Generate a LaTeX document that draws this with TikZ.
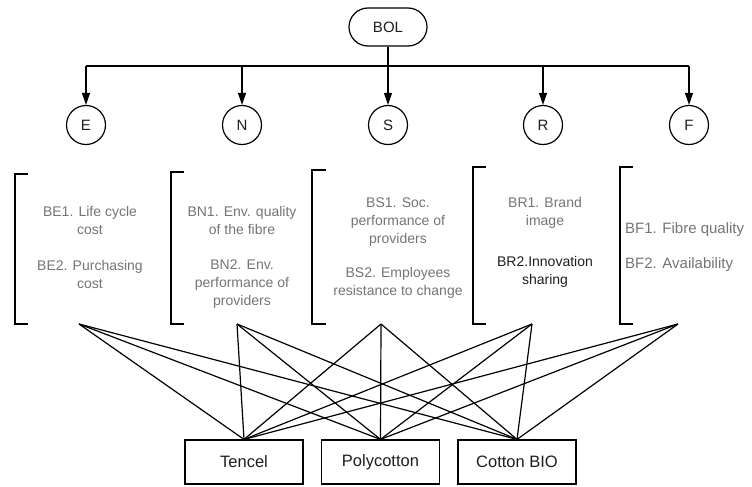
\documentclass[tikz,border=0pt]{standalone}
\usepackage{fontspec}
\setmainfont{Liberation Sans}
\usetikzlibrary{arrows.meta,shapes.misc}
\definecolor{txtgrey}{HTML}{747474}
\definecolor{txtdark}{HTML}{1E1E1E}
\begin{document}
\begin{tikzpicture}[x=1pt,y=-1pt,
  ln/.style={line width=1.2pt, black},
  arr/.style={ln,-{Triangle[length=12pt,width=8pt]}},
  crit/.style={circle, draw, line width=1.2pt, minimum size=39pt, inner sep=0pt, text=txtdark, font=\fontsize{15}{18}\selectfont},
  alt/.style={rectangle, draw, line width=1.2pt, minimum width=118pt, minimum height=44pt, inner sep=0pt, text=txtdark, font=\fontsize{16.5}{20}\selectfont},
  desc/.style={align=center, inner sep=0pt, text=txtgrey, font=\fontsize{14}{18}\selectfont, anchor=north},
  brk/.style={line width=1.5pt}
]
\useasboundingbox (0,0) rectangle (752,487);

% goal
\node[draw, rounded rectangle, line width=1.2pt, minimum width=78pt, minimum height=38pt, inner sep=0pt, text=txtdark, font=\fontsize{15}{18}\selectfont] (BOL) at (388,27) {BOL};

% criteria
\node[crit] (E) at (86,125) {E};
\node[crit] (N) at (242,125) {N};
\node[crit] (S) at (388,125) {S};
\node[crit] (R) at (543,125) {R};
\node[crit] (F) at (689,125) {F};

% bus
\coordinate (busL) at (86,66);
\coordinate (busR) at (689,66);
\draw[ln] (BOL.south) -- (BOL.south |- busL);
\draw[ln] (busL) -- (busR);
\foreach \c in {E,N,S,R,F}
  \draw[arr] (\c |- busL) -- (\c.north);

% brackets
\draw[brk] (28,174) -- (15,174) -- (15,324) -- (28,324);
\draw[brk] (184,172) -- (171,172) -- (171,324) -- (184,324);
\draw[brk] (326,170) -- (312,170) -- (312,324) -- (326,324);
\draw[brk] (486,167) -- (473,167) -- (473,324) -- (486,324);
\draw[brk] (633,167) -- (620,167) -- (620,324) -- (633,324);

% descriptions
\node[desc] (dE1) at (90,206) {BE1. Life cycle\\cost};
\node[desc] (dE2) at (90,260) {BE2. Purchasing\\cost};
\node[desc] (dN1) at (242,206) {BN1. Env. quality\\of the fibre};
\node[desc] (dN2) at (242,260) {BN2. Env.\\performance of\\providers};
\node[desc] (dS1) at (398,198) {BS1. Soc.\\performance of\\providers};
\node[desc] (dS2) at (398,267) {BS2. Employees\\resistance to change};
\node[desc] (dR1) at (545,197) {BR1. Brand\\image};
\node[desc] (dR2) at (545,256) {\textcolor{txtdark}{BR2.Innovation}\\\textcolor{txtdark}{sharing}};
\node[desc, anchor=north west, font=\fontsize{15}{18}\selectfont] (dF1) at (625,222) {BF1. Fibre quality};
\node[desc, anchor=north west, font=\fontsize{15}{18}\selectfont] (dF2) at (625,257) {BF2. Availability};

% alternatives
\node[alt] (T) at (244,462) {Tencel};
\node[alt] (P) at (380.5,462) {Polycotton};
\node[alt] (C) at (517,462) {Cotton BIO};

% line origins
\coordinate (pE) at (79,324);
\coordinate (pN) at (237,324);
\coordinate (pS) at (381,324);
\coordinate (pR) at (532,324);
\coordinate (pF) at (678,324);

\foreach \s in {pE,pN,pS,pR,pF}
  \foreach \t in {T,P,C}
    \draw[ln] (\s) -- (\t.north);
\end{tikzpicture}
\end{document}
